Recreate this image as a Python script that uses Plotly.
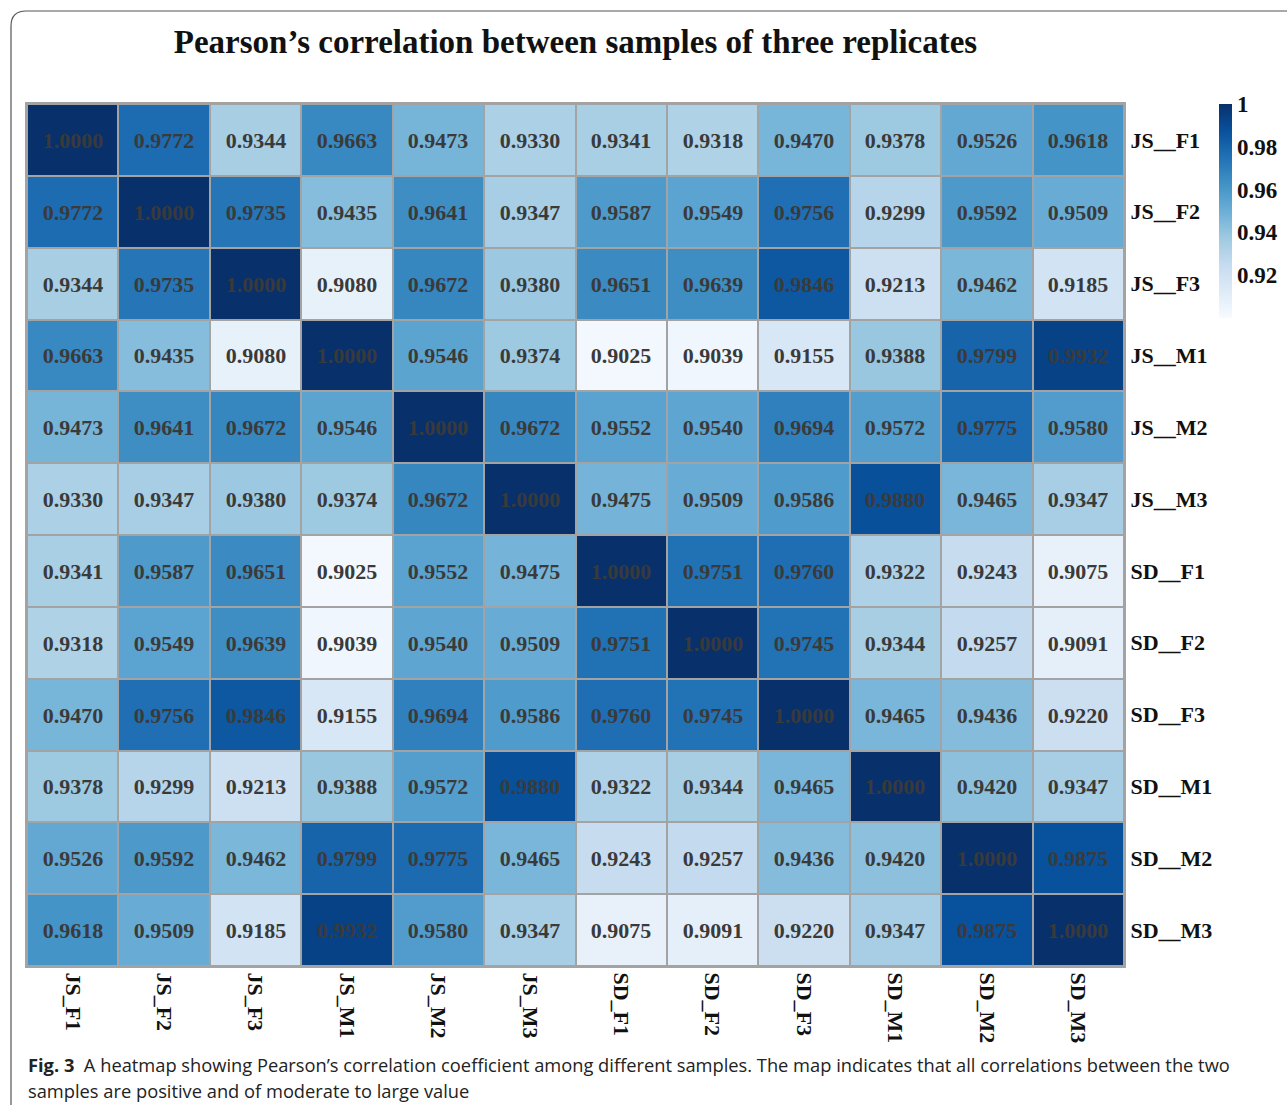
import plotly.graph_objects as go

samples = ["JS_F1", "JS_F2", "JS_F3", "JS_M1", "JS_M2", "JS_M3",
           "SD_F1", "SD_F2", "SD_F3", "SD_M1", "SD_M2", "SD_M3"]
row_labels = ["JS__F1", "JS__F2", "JS__F3", "JS__M1", "JS__M2", "JS__M3",
              "SD__F1", "SD__F2", "SD__F3", "SD__M1", "SD__M2", "SD__M3"]

js_f1 = [1.0000, 0.9772, 0.9344, 0.9663, 0.9473, 0.9330, 0.9341, 0.9318, 0.9470, 0.9378, 0.9526, 0.9618]
js_f2 = [0.9772, 1.0000, 0.9735, 0.9435, 0.9641, 0.9347, 0.9587, 0.9549, 0.9756, 0.9299, 0.9592, 0.9509]
js_f3 = [0.9344, 0.9735, 1.0000, 0.9080, 0.9672, 0.9380, 0.9651, 0.9639, 0.9846, 0.9213, 0.9462, 0.9185]
js_m1 = [0.9663, 0.9435, 0.9080, 1.0000, 0.9546, 0.9374, 0.9025, 0.9039, 0.9155, 0.9388, 0.9799, 0.9932]
js_m2 = [0.9473, 0.9641, 0.9672, 0.9546, 1.0000, 0.9672, 0.9552, 0.9540, 0.9694, 0.9572, 0.9775, 0.9580]
js_m3 = [0.9330, 0.9347, 0.9380, 0.9374, 0.9672, 1.0000, 0.9475, 0.9509, 0.9586, 0.9880, 0.9465, 0.9347]
sd_f1 = [0.9341, 0.9587, 0.9651, 0.9025, 0.9552, 0.9475, 1.0000, 0.9751, 0.9760, 0.9322, 0.9243, 0.9075]
sd_f2 = [0.9318, 0.9549, 0.9639, 0.9039, 0.9540, 0.9509, 0.9751, 1.0000, 0.9745, 0.9344, 0.9257, 0.9091]
sd_f3 = [0.9470, 0.9756, 0.9846, 0.9155, 0.9694, 0.9586, 0.9760, 0.9745, 1.0000, 0.9465, 0.9436, 0.9220]
sd_m1 = [0.9378, 0.9299, 0.9213, 0.9388, 0.9572, 0.9880, 0.9322, 0.9344, 0.9465, 1.0000, 0.9420, 0.9347]
sd_m2 = [0.9526, 0.9592, 0.9462, 0.9799, 0.9775, 0.9465, 0.9243, 0.9257, 0.9436, 0.9420, 1.0000, 0.9875]
sd_m3 = [0.9618, 0.9509, 0.9185, 0.9932, 0.9580, 0.9347, 0.9075, 0.9091, 0.9220, 0.9347, 0.9875, 1.0000]

corr = [js_f1, js_f2, js_f3, js_m1, js_m2, js_m3, sd_f1, sd_f2, sd_f3, sd_m1, sd_m2, sd_m3]

cbar_ticks = [0.92, 0.94, 0.96, 0.98, 1.0]
cbar_ticktext = ["0.92", "0.94", "0.96", "0.98", "1"]

W, H = 1287, 1109
L, R, T, B = 27, 1124, 104, 966
pw, ph = R - L, B - T

def px(x):
    return (x - L) / pw

def py(y):
    return (B - y) / ph

serif = "Liberation Serif"
idx = list(range(len(samples)))

fig = go.Figure(go.Heatmap(
    z=corr, x=idx, y=idx,
    zmin=0.9, zmax=1.0,
    colorscale="Blues",
    xgap=2, ygap=2,
    texttemplate="%{z:.4f}",
    textfont=dict(family=serif, size=22, color="#3a3a3a", weight="bold"),
    hoverinfo="skip",
    colorbar=dict(
        x=px(1219), xanchor="left", xref="paper", xpad=0,
        y=1.0, yanchor="top", ypad=0,
        len=214, lenmode="pixels",
        thickness=13, thicknessmode="pixels",
        outlinewidth=0, ticks="", ticklen=0,
        tickmode="array",
        tickvals=cbar_ticks,
        ticktext=[f"<b>{t}</b>" for t in cbar_ticktext],
        tickfont=dict(family=serif, size=23, color="#111"),
    ),
))

fig.update_layout(
    width=W, height=H,
    font=dict(family=serif, color="#111"),
    margin=dict(l=L, r=W - R, t=T, b=H - B, pad=0, autoexpand=False),
    paper_bgcolor="white",
    plot_bgcolor="#a3a3a3",
    title=dict(
        text="Pearson’s correlation between samples of three replicates",
        font=dict(family=serif, size=33, color="#111", weight="bold"),
        x=0.5, xref="paper", xanchor="center",
        y=1 - 41 / H, yref="container", yanchor="middle",
    ),
    xaxis=dict(
        tickvals=idx, ticktext=samples, tickangle=90,
        tickfont=dict(family=serif, size=22, color="#111", weight="bold"),
        showgrid=False, zeroline=False, ticks="",
        showline=True, linecolor="#a3a3a3", linewidth=2, mirror=True,
        range=[-0.5, 11.5],
    ),
    yaxis=dict(
        tickvals=idx, ticktext=row_labels, side="right",
        autorange="reversed",
        tickfont=dict(family=serif, size=22, color="#111", weight="bold"),
        showgrid=False, zeroline=False, ticks="",
        showline=True, linecolor="#a3a3a3", linewidth=2, mirror=True,
    ),
)

# frame with rounded top-left corner
fig.add_shape(
    type="path", xref="paper", yref="paper",
    path=(f"M {px(11)} {py(1105)} L {px(11)} {py(26)} "
          f"Q {px(11)} {py(11)} {px(26)} {py(11)} L {px(1287)} {py(11)}"),
    line=dict(color="#555", width=1.2),
)

cap_font = dict(family="Open Sans, Noto Sans, sans-serif", size=18.3, color="#222")
fig.add_annotation(
    text="<b>Fig. 3</b>  A heatmap showing Pearson’s correlation coefficient among different samples. The map indicates that all correlations between the two",
    xref="paper", yref="paper", x=px(26), y=py(1064), xanchor="left", yanchor="middle",
    showarrow=False, font=cap_font, align="left",
)
fig.add_annotation(
    text="samples are positive and of moderate to large value",
    xref="paper", yref="paper", x=px(26), y=py(1090), xanchor="left", yanchor="middle",
    showarrow=False, font=cap_font, align="left",
)

fig.write_html("out.html")
